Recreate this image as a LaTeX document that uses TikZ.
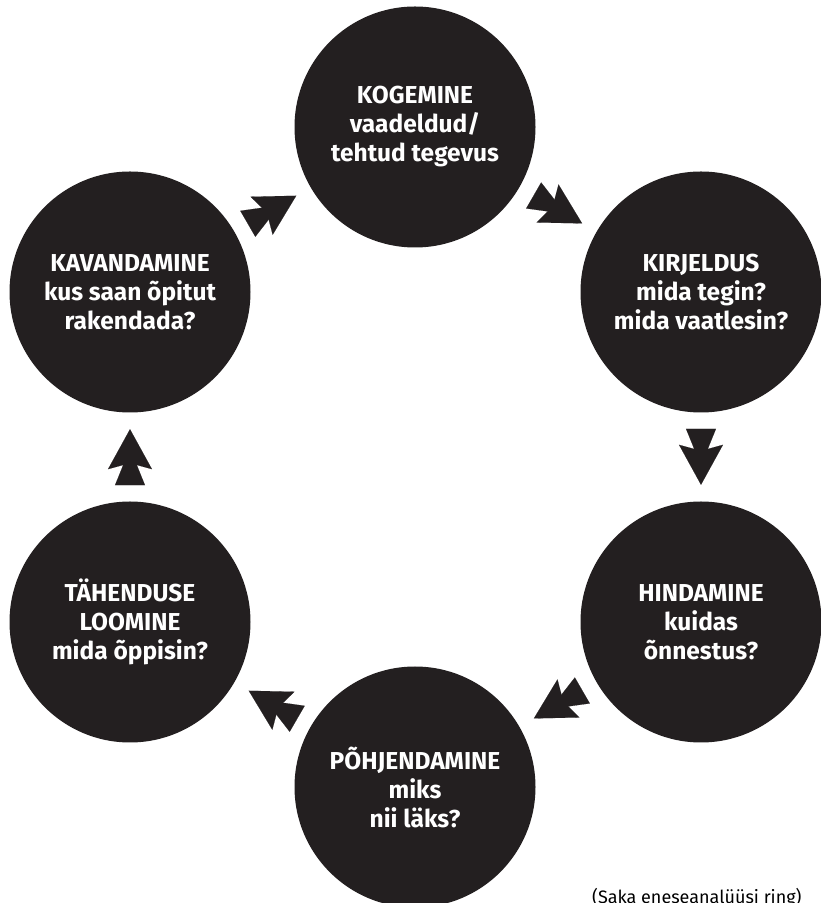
\documentclass[tikz,border=0pt]{standalone}
\usepackage{fontspec}
\setmainfont{Fira Sans}
\usetikzlibrary{arrows.meta}

\definecolor{ringblack}{HTML}{231F20}

\begin{document}
\begin{tikzpicture}[
  x=1pt, y=1pt,
  stage/.style={circle, fill=ringblack, text=white, align=center, minimum size=241pt, inner sep=0pt, font=\fontsize{24.5}{29}\selectfont\bfseries},
  flow/.style={draw=ringblack, line width=0.1pt, shorten <=16.5pt, shorten >=16.5pt,
    -{Triangle[length=37pt,width=30pt,sep=-21pt] Stealth[length=40pt,width=44pt,inset=6pt]}},
  note/.style={font=\fontsize{18}{20}\selectfont, inner sep=0pt, anchor=base west}
]
\useasboundingbox (0,0) rectangle (820,903);

\node[stage] (kog) at (415,776) {KOGEMINE\\vaadeldud/\\tehtud tegevus};
\node[stage] (kir) at (701,611) {KIRJELDUS\\mida tegin?\\mida vaatlesin?};
\node[stage] (hin) at (701,281) {HINDAMINE\\kuidas\\õnnestus?};
\node[stage] (poh) at (415,116) {PÕHJENDAMINE\\miks\\nii läks?};
\node[stage] (tah) at (130,281) {TÄHENDUSE\\LOOMINE\\mida õppisin?};
\node[stage] (kav) at (130,611) {KAVANDAMINE\\kus saan õpitut\\rakendada?};

\draw[flow] (kog) -- (kir);
\draw[flow] (kir) -- (hin);
\draw[flow] (hin) -- (poh);
\draw[flow] (poh) -- (tah);
\draw[flow] (tah) -- (kav);
\draw[flow] (kav) -- (kog);

\node[note] (src) at (592,-1) {(Saka eneseanalüüsi ring)};

\end{tikzpicture}
\end{document}
